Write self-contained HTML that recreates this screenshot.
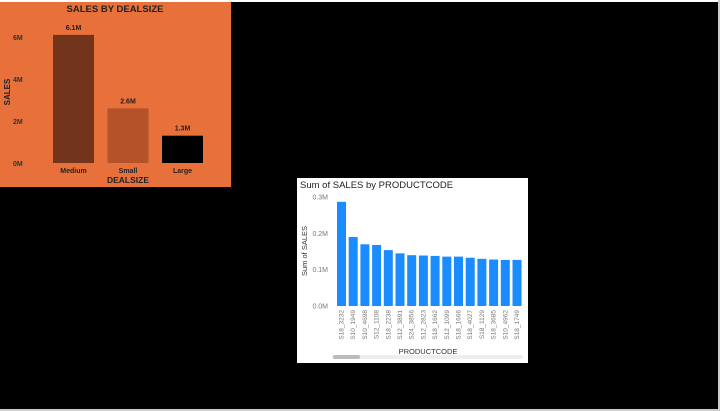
<!DOCTYPE html>
<html><head><meta charset="utf-8"><style>
body{margin:0;width:720px;height:411px;background:#000;overflow:hidden;position:relative;font-family:"Liberation Sans",sans-serif}
svg{position:absolute;left:0;top:0}
</style></head><body>
<svg width="720" height="411">
<rect x="0" y="0" width="720" height="2" fill="#fff"/>
<rect x="0" y="409" width="720" height="2" fill="#ccc"/>
<rect x="718" y="0" width="2" height="411" fill="#ccc"/>
<rect x="0" y="2" width="231" height="185" fill="#E8703A"/>
<text x="115" y="12" text-anchor="middle" font-size="9.5" font-weight="bold" fill="#222">SALES BY DEALSIZE</text>
<g id="left"></g>
<text x="10" y="92" transform="rotate(-90 10 92)" text-anchor="middle" font-size="8" font-weight="bold" fill="#222">SALES</text>
<text x="128" y="183" text-anchor="middle" font-size="8.5" font-weight="bold" fill="#222">DEALSIZE</text>

<rect x="297" y="178" width="231" height="185" fill="#fff"/>
<text x="300" y="188" font-size="9.5" fill="#222">Sum of SALES by PRODUCTCODE</text>
<g id="right"></g>
<text x="307" y="251" transform="rotate(-90 307 251)" text-anchor="middle" font-size="7.5" fill="#333">Sum of SALES</text>
<text x="428" y="354" text-anchor="middle" font-size="7.5" fill="#333">PRODUCTCODE</text>
<rect x="332" y="355" width="191" height="4" rx="2" fill="#eee"/>
<rect x="333" y="355" width="27" height="4" rx="2" fill="#bbb"/>
</svg>
<script>
const dealCats=["Medium","Small","Large"];
const dealVals=[6.1,2.6,1.3];
const dealLabels=["6.1M","2.6M","1.3M"];
const dealTicks=[0,2,4,6];
const codeCats=["S18_3232","S10_1949","S10_4698","S12_1108","S18_2238","S12_3891","S24_3856","S12_2823","S18_1662","S12_1099","S18_1666","S18_4027","S18_1129","S18_3685","S10_4962","S18_1749"];
const codeVals=[0.287,0.19,0.17,0.168,0.154,0.145,0.14,0.139,0.138,0.136,0.136,0.133,0.13,0.128,0.127,0.127];
const codeTicks=[0,0.1,0.2,0.3];
const NS="http://www.w3.org/2000/svg";
function mk(p,t,a,txt){const e=document.createElementNS(NS,t);for(const k in a)e.setAttribute(k,a[k]);if(txt!==undefined)e.textContent=txt;p.appendChild(e);return e;}
const L=document.getElementById('left');
const ly=v=>163-v*21;const lx=i=>53+i*54.5;
const dealColors=["#73341C","#B4532A","#000000"];
dealTicks.forEach(t=>{const e=mk(L,'text',{x:13,y:ly(t)+3,'font-size':7,'font-weight':'bold',fill:'#333'},t+"M");

});
dealCats.forEach((c,i)=>{
const r=mk(L,'rect',{x:lx(i),y:ly(dealVals[i]),width:41,height:163-ly(dealVals[i]),fill:dealColors[i]});


const v=mk(L,'text',{x:lx(i)+20.5,y:ly(dealVals[i])-5,'text-anchor':'middle','font-size':7,'font-weight':'bold',fill:'#222'},dealLabels[i]);


const x=mk(L,'text',{x:lx(i)+20.5,y:173,'text-anchor':'middle','font-size':7,'font-weight':'bold',fill:'#222'},c);

});
const R=document.getElementById('right');
const ry=v=>306-v*363;const rx=i=>337+i*11.7;
codeTicks.forEach(t=>{const e=mk(R,'text',{x:328,y:ry(t)+2.5,'text-anchor':'end','font-size':7,fill:'#777'},t.toFixed(1)+"M");

});
codeCats.forEach((c,i)=>{
const r=mk(R,'rect',{x:rx(i),y:ry(codeVals[i]),width:9,height:306-ry(codeVals[i]),fill:'#1A8CFF'});


const cx=rx(i)+6.5;
const t=mk(R,'text',{x:cx,y:310,transform:`rotate(-90 ${cx} 310)`,'text-anchor':'end','font-size':6.5,fill:'#777'},c);

});
</script>
</body></html>
